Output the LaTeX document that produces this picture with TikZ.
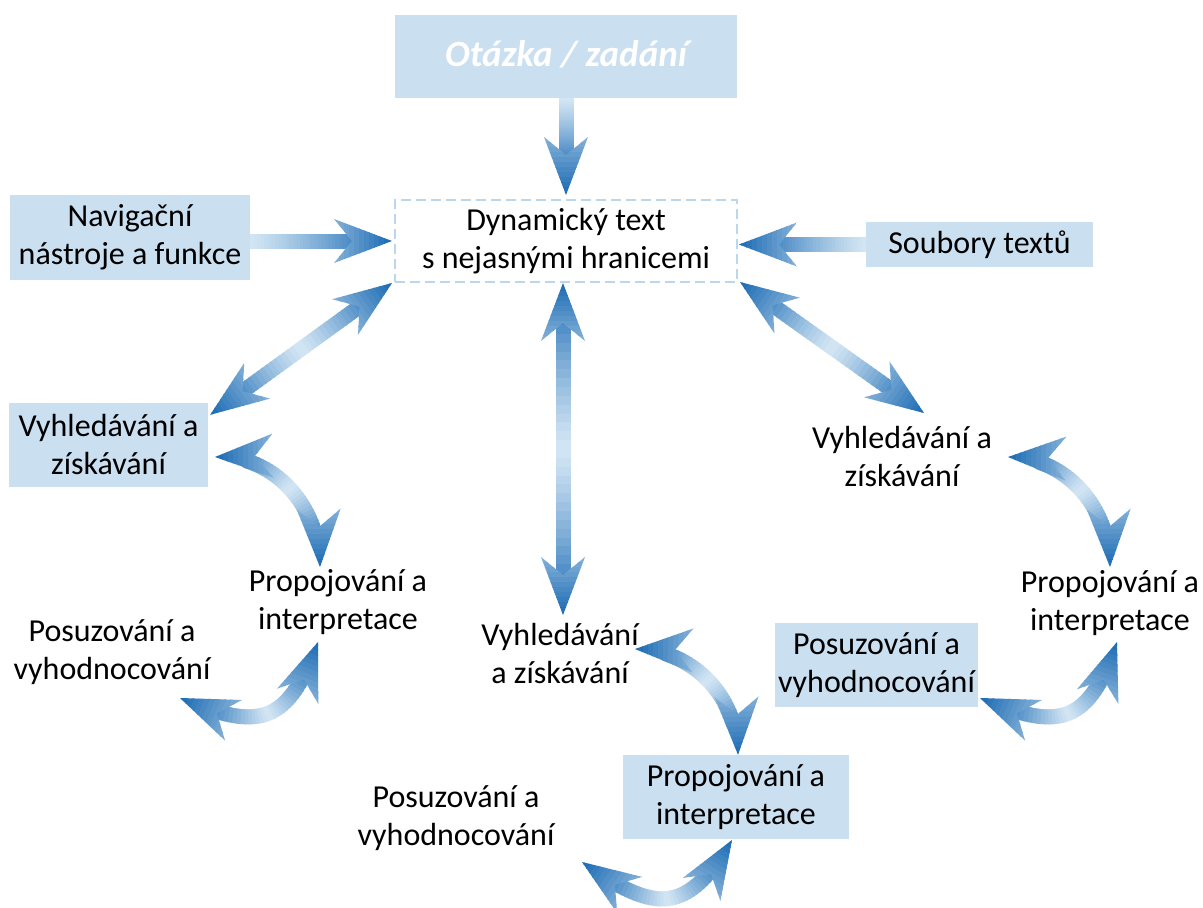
\documentclass[tikz,border=0pt]{standalone}
\usepackage{fontspec}
\setmainfont{Carlito}
\usepackage{tikz}

\definecolor{boxfill}{HTML}{CADFF0}
\definecolor{dashline}{HTML}{BCD6EE}
\definecolor{arrdark}{HTML}{1A6AB4}
\definecolor{arrlight}{HTML}{D3E6F4}

\tikzset{
  lbl/.style={font=\fontsize{32}{38}\selectfont, align=center, inner sep=0pt},
  bluebox/.style={lbl, fill=boxfill},
  dashbox/.style={lbl, draw=dashline, line width=2pt, dash pattern=on 10pt off 5pt},
  pics/head/.style={code={
    \clip (0,0) -- (-58,22) -- (-40,0) -- (-58,-22) -- cycle;
    \foreach \i in {0,...,11}{
      \pgfmathsetmacro\hm{45+55*\i/11}
      \fill[arrdark!\hm!arrlight] (-58+\i*5,-23) rectangle (-52+\i*5,23);
    }
  }}
}

% block arrow: from, to, to-options, 1=single 2=double, shaft start, shaft end
\newcommand{\blockarrow}[6]{%
  \foreach \k in {0,...,29}{%
    \pgfmathsetmacro\ta{#5+(#6-#5)*\k/30}%
    \pgfmathsetmacro\tb{#5+(#6-#5)*min(30,\k+1.5)/30}%
    \pgfmathsetmacro\sm{(\k+0.5)/30}%
    \ifnum#4=1 \pgfmathsetmacro\mixv{78*\sm^1.2}\else\pgfmathsetmacro\mixv{78*abs(2*\sm-1)^1.2}\fi
    \path (#1) to[#3] coordinate[pos=\ta] (sa) coordinate[pos=\tb] (sb) (#2);
    \draw[line width=15pt, arrdark!\mixv!arrlight] (sa) -- (sb);
  }%
  \path (#1) to[#3] coordinate[pos=0] (hs) coordinate[pos=0.03] (hc)
        coordinate[pos=0.97] (hb) coordinate[pos=1] (he) (#2);
  \pgfmathanglebetweenpoints{\pgfpointanchor{hb}{center}}{\pgfpointanchor{he}{center}}%
  \let\hang\pgfmathresult
  \pic[rotate=\hang] at (he) {head};
  \ifnum#4=2
    \pgfmathanglebetweenpoints{\pgfpointanchor{hc}{center}}{\pgfpointanchor{hs}{center}}%
    \let\hang\pgfmathresult
    \pic[rotate=\hang] at (hs) {head};
  \fi
}

\begin{document}
\begin{tikzpicture}[x=1pt, y=1pt]
\useasboundingbox (0,0) rectangle (1203,-908);
\clip (0,0) rectangle (1203,-908);
\fill[white] (0,0) rectangle (1203,-908);

% boxes and texts
\node[bluebox, minimum width=342pt, minimum height=83pt, text=white,
      font=\fontsize{37}{44}\selectfont\bfseries\itshape] (task) at (566,-56) {\raisebox{4pt}{Otázka / zadání}};
\node[dashbox, minimum width=342pt, minimum height=82pt] (dyn) at (566,-241) {Dynamický text\\s nejasnými hranicemi};
\node[bluebox, minimum width=240pt, minimum height=85pt] (nav) at (130,-237.5) {Navigační\\nástroje a funkce};
\node[bluebox, minimum width=227pt, minimum height=45pt] (files) at (979.5,-244.5) {Soubory textů};

\node[bluebox, minimum width=199pt, minimum height=84pt] (findL) at (108.5,-445) {Vyhledávání a\\získávání};
\node[lbl] (linkL) at (338,-602) {Propojování a\\interpretace};
\node[lbl] (judgeL) at (112,-652) {Posuzování a\\vyhodnocování};

\node[lbl] (findM) at (560,-653) {Vyhledávání\\a získávání};
\node[bluebox, minimum width=226pt, minimum height=84pt] (linkM) at (736,-797) {Propojování a\\interpretace};
\node[lbl] (judgeM) at (456,-818) {Posuzování a\\vyhodnocování};

\node[lbl] (findR) at (902,-457) {Vyhledávání a\\získávání};
\node[lbl] (linkR) at (1110,-603) {Propojování a\\interpretace};
\node[bluebox, minimum width=203pt, minimum height=84pt] (judgeR) at (876.5,-665) {Posuzování a\\vyhodnocování};

% arrow ends
\coordinate (taskIn) at ([yshift=4pt]dyn.north);
\coordinate (navOut) at (nav.east |- dyn.west);
\coordinate (navIn) at ([xshift=-2pt]dyn.west);
\coordinate (filesIn) at ([xshift=1pt]files.west -| dyn.east);
\coordinate (diagL) at ([xshift=-2pt]dyn.south west);
\coordinate (findLtip) at ([xshift=2pt,yshift=-12pt]findL.north east);
\coordinate (vtop) at ([xshift=-3pt]dyn.south);
\coordinate (vbot) at (vtop |- 0,-615);
\coordinate (diagR) at ([xshift=2pt,yshift=1pt]dyn.south east);
\coordinate (findRtip) at (924,-413);
\coordinate (cLa) at (215,-457);
\coordinate (cLb) at (320,-567);
\coordinate (cLc) at (180,-698);
\coordinate (cLd) at (318,-642);
\coordinate (cMa) at (635,-649);
\coordinate (cMb) at ([xshift=2pt]linkM.north);
\coordinate (cMc) at (582,-862);
\coordinate (cMd) at (732,-840);
\coordinate (cRa) at (1008,-457);
\coordinate (cRb) at (1110,-567);
\coordinate (cRc) at (980,-698);
\coordinate (cRd) at (1117,-642);

% straight arrows
\blockarrow{task.south}{taskIn}{}{1}{0}{0.62}
\blockarrow{navOut}{navIn}{}{1}{0}{0.75}
\blockarrow{files.west}{filesIn}{}{1}{0}{0.73}
\blockarrow{diagL}{findLtip}{}{2}{0.15}{0.85}
\blockarrow{vtop}{vbot}{}{2}{0.1}{0.9}
\blockarrow{diagR}{findRtip}{}{2}{0.15}{0.85}

% cycles
\blockarrow{cLa}{cLb}{out=3,in=90}{2}{0.18}{0.82}
\blockarrow{cLc}{cLd}{out=-23,in=-110,looseness=1.5}{2}{0.14}{0.86}
\blockarrow{cMa}{cMb}{out=0,in=90}{2}{0.18}{0.82}
\blockarrow{cMc}{cMd}{out=-35,in=-121,looseness=1.5}{2}{0.14}{0.86}
\blockarrow{cRa}{cRb}{out=0,in=90}{2}{0.18}{0.82}
\blockarrow{cRc}{cRd}{out=-23,in=-109,looseness=1.5}{2}{0.14}{0.86}
\end{tikzpicture}
\end{document}
